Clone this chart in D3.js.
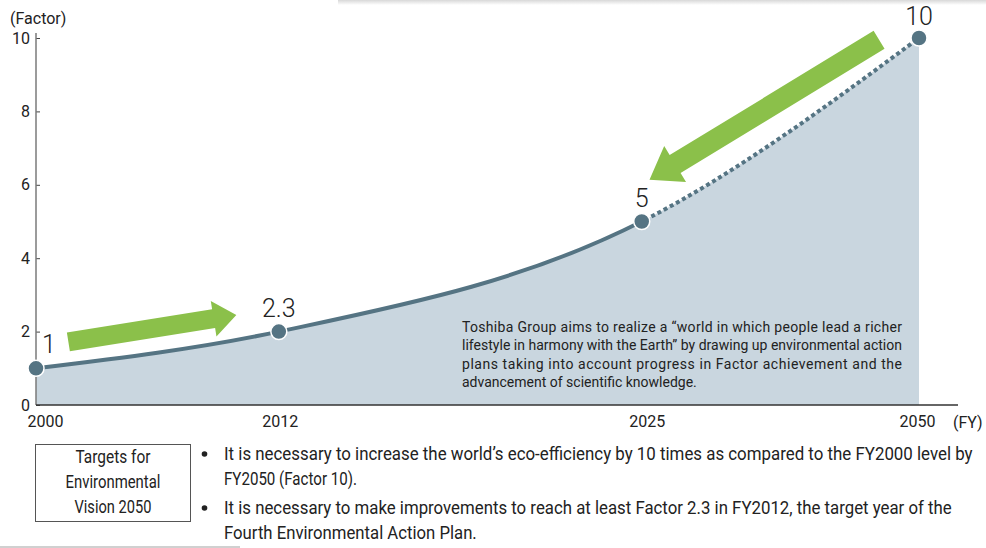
<!DOCTYPE html>
<html>
<head>
<meta charset="utf-8">
<script src="https://cdn.jsdelivr.net/npm/d3@7"></script>
<style>
  body { margin: 0; background: #fff; }
  svg { display: block; font-family: "Roboto", "Liberation Sans", sans-serif; }
</style>
</head>
<body>
<script>
// data
const years = [2000, 2012, 2025, 2050];
const factors = [1, 2.0, 5, 10];          // where the dots sit on the drawing
const pointLabels = ['1', '2.3', '5', '10'];
const yTicks = [0, 2, 4, 6, 8, 10];
const dashedFrom = 2025;

// green arrows, in chart units [year, factor]
const arrows = [
  { from: [2001.6, 1.72], to: [2009.9, 2.45], body: 19, head: 36, headLen: 23 },
  { from: [2046.4, 9.95], to: [2025.7, 6.14], body: 21, head: 42, headLen: 30 }
];

const note = [
  'Toshiba Group aims to realize a \u201cworld in which people lead a richer',
  'lifestyle in harmony with the Earth\u201d by drawing up environmental action',
  'plans taking into account progress in Factor achievement and the',
  'advancement of scientific knowledge.'
];
const boxLines = ['Targets for', 'Environmental', 'Vision 2050'];
const bullets = [
  ['It is necessary to increase the world\u2019s eco-efficiency by 10 times as compared to the FY2000 level by',
   'FY2050 (Factor 10).'],
  ['It is necessary to make improvements to reach at least Factor 2.3 in FY2012, the target year of the',
   'Fourth Environmental Action Plan.']
];

const width = 986, height = 548;
const margin = { left: 36, top: 38, right: 67, bottom: 143 };
const plotW = width - margin.left - margin.right;
const xStops = [0, 0.275, 0.686, 1];

// the reference type is a condensed face; squeeze text to the measured widths
const boxWidths = [75, 95, 77];
const bulletWidths = [[749, 133], [728, 253]];
const xLabelShift = [9, 1, 5, -2];

const svg = d3.select('body').append('svg')
  .attr('width', width)
  .attr('height', height);

// write a line at (x, y) and squeeze it horizontally to the given width
function fitText(parent, str, x0, y0, w, size) {
  const g = parent.append('g');
  const t = g.append('text').attr('font-size', size).attr('fill', '#222').text(str);
  const natural = t.node().getComputedTextLength();
  g.attr('transform', `translate(${x0},${y0}) scale(${w / natural},1)`);
  return t;
}

// faint card shadow on top and rule at bottom left
const defs = svg.append('defs');
const grad = defs.append('linearGradient')
  .attr('id', 'shade').attr('x1', 0).attr('y1', 0).attr('x2', 0).attr('y2', 1);
grad.append('stop').attr('offset', 0).attr('stop-color', '#d8d8d8');
grad.append('stop').attr('offset', 1).attr('stop-color', '#fff');
svg.append('rect').attr('x', 338).attr('y', 0).attr('width', 648).attr('height', 5).attr('fill', 'url(#shade)');
svg.append('rect').attr('x', 0).attr('y', 546).attr('width', 240).attr('height', 2).attr('fill', '#d0d0d0');

const x = d3.scaleLinear()
  .domain(years)
  .range(xStops.map(f => margin.left + f * plotW));

const y = d3.scaleLinear()
  .domain([0, 10])
  .range([405, margin.top]);

const pts = years.map((d, i) => [x(d), y(factors[i])]);

const line = d3.line().curve(d3.curveMonotoneX);
const area = d3.area().curve(d3.curveMonotoneX)
  .x(d => d[0]).y0(y(0)).y1(d => d[1]);

svg.append('path')
  .attr('d', area(pts))
  .attr('fill', '#c9d6df');

defs.append('clipPath').attr('id', 'solidPart')
  .append('rect').attr('x', 0).attr('y', 0).attr('width', x(dashedFrom)).attr('height', height);
defs.append('clipPath').attr('id', 'dotPart')
  .append('rect').attr('x', x(dashedFrom)).attr('y', 0).attr('width', width).attr('height', height);

svg.append('path')
  .attr('d', line(pts))
  .attr('fill', 'none')
  .attr('stroke', '#557483')
  .attr('stroke-width', 4)
  .attr('clip-path', 'url(#solidPart)');

svg.append('path')
  .attr('d', line(pts))
  .attr('fill', 'none')
  .attr('stroke', '#557483')
  .attr('stroke-width', 4)
  .attr('stroke-dasharray', '4,3')
  .attr('clip-path', 'url(#dotPart)');

// axes
const yAxis = d3.axisLeft(y).tickValues(yTicks).tickSize(-4).tickPadding(6);
const gy = svg.append('g')
  .attr('transform', `translate(${margin.left},0)`)
  .call(yAxis);
gy.select('.domain').remove();
gy.selectAll('.tick line').attr('stroke', '#444');
gy.selectAll('.tick text').attr('font-size', 16).attr('fill', '#222')
  .attr('font-family', 'Roboto, sans-serif');
svg.append('line')
  .attr('x1', margin.left).attr('x2', margin.left)
  .attr('y1', y(10) - 5).attr('y2', y(0))
  .attr('stroke', '#7a7a7a').attr('stroke-width', 1.5);

const xAxis = d3.axisBottom(x).tickValues(years).tickFormat(d3.format('d')).tickSize(0).tickPadding(11);
const gx = svg.append('g')
  .attr('transform', `translate(0,${y(0)})`)
  .call(xAxis);
gx.select('.domain').remove();
gx.selectAll('.tick text').attr('font-size', 16).attr('fill', '#222')
  .attr('font-family', 'Roboto, sans-serif')
  .attr('dx', (d, i) => xLabelShift[i]);
svg.append('line')
  .attr('x1', margin.left).attr('x2', 958)
  .attr('y1', y(0)).attr('y2', y(0))
  .attr('stroke', '#333').attr('stroke-width', 1.5);

svg.append('text').attr('x', 10).attr('y', 24)
  .attr('font-size', 16).attr('fill', '#222').text('(Factor)');
svg.append('text').attr('x', 953).attr('y', 428)
  .attr('font-size', 16).attr('fill', '#222').text('(FY)');

// arrows
function arrowPath(a) {
  const [x0, y0] = [x(a.from[0]), y(a.from[1])];
  const [x1, y1] = [x(a.to[0]), y(a.to[1])];
  const len = Math.hypot(x1 - x0, y1 - y0);
  const ux = (x1 - x0) / len, uy = (y1 - y0) / len;
  const nx = -uy, ny = ux;
  const bx = x1 - ux * a.headLen, by = y1 - uy * a.headLen;
  const b = a.body / 2, h = a.head / 2;
  const p = [
    [x0 + nx * b, y0 + ny * b],
    [bx + nx * b, by + ny * b],
    [bx + nx * h, by + ny * h],
    [x1, y1],
    [bx - nx * h, by - ny * h],
    [bx - nx * b, by - ny * b],
    [x0 - nx * b, y0 - ny * b]
  ];
  return 'M' + p.map(q => q.join(',')).join('L') + 'Z';
}
svg.selectAll('path.arrow')
  .data(arrows)
  .join('path')
  .attr('class', 'arrow')
  .attr('d', arrowPath)
  .attr('fill', '#8bc04a');

// dots and labels
svg.selectAll('circle.pt')
  .data(pts)
  .join('circle')
  .attr('class', 'pt')
  .attr('cx', d => d[0]).attr('cy', d => d[1])
  .attr('r', 8)
  .attr('fill', '#557483')
  .attr('stroke', '#fff').attr('stroke-width', 1.5);

svg.selectAll('text.pl')
  .data(pts)
  .join('text')
  .attr('class', 'pl')
  .attr('x', (d, i) => i === 0 ? d[0] + 6 : d[0])
  .attr('y', (d, i) => d[1] - (i === 3 ? 13 : 15))
  .attr('text-anchor', (d, i) => i === 0 ? 'start' : 'middle')
  .attr('font-size', 25)
  .attr('font-weight', 300)
  .attr('fill', '#222')
  .text((d, i) => pointLabels[i]);

// note inside area
svg.append('g').selectAll('text')
  .data(note)
  .join('text')
  .attr('x', 462)
  .attr('y', (d, i) => 332 + i * 18.3)
  .attr('font-size', 14)
  .attr('fill', '#222')
  .attr('textLength', (d, i) => i < note.length - 1 ? 440 : null)
  .attr('lengthAdjust', 'spacing')
  .text(d => d);

// bottom box
svg.append('rect')
  .attr('x', 35.5).attr('y', 444.5).attr('width', 155).attr('height', 77)
  .attr('fill', 'none').attr('stroke', '#555').attr('stroke-width', 1);
const bx = svg.append('g');
boxLines.forEach((s, i) => fitText(bx, s, 113 - boxWidths[i] / 2, 463 + i * 25, boxWidths[i], 18));

const bl = svg.append('g');
bullets.forEach((b, i) => {
  const top = 460 + i * 54;
  bl.append('circle').attr('cx', 204.5).attr('cy', top - 6).attr('r', 2.8).attr('fill', '#222');
  b.forEach((t, j) => fitText(bl, t, 224, top + j * 25, bulletWidths[i][j], 18));
});
</script>
</body>
</html>
